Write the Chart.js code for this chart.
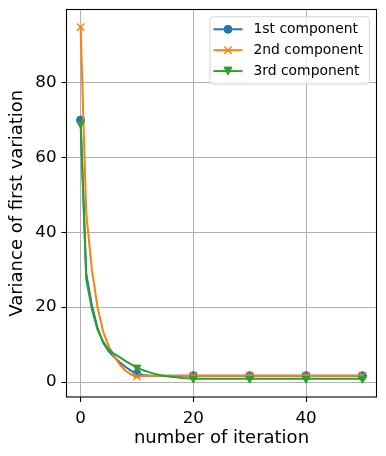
<!DOCTYPE html>
<html><head><meta charset="utf-8">
<script src="https://cdn.jsdelivr.net/npm/chart.js@4.4.1/dist/chart.umd.min.js"></script>
<style>html,body{margin:0;padding:0;background:#fff}#wrap{width:386px;height:456px;position:relative}</style>
</head><body><div id="wrap"><canvas id="c" width="386" height="456"></canvas></div>
<script>
const iterations = [0,1,2,3,4,5,6,7,8,9,10,11,12,13,14,15,16,17,18,19,20,21,22,23,24,25,26,27,28,29,30,31,32,33,34,35,36,37,38,39,40,41,42,43,44,45,46,47,48,49,50];
const seriesLabels = ['1st component', '2nd component', '3rd component'];
const comp1 = [70, 29, 20.5, 14.5, 10.5, 8.2, 6.6, 5.2, 4.0, 3.0, 2.2, 1.9, 1.75, 1.7, 1.7, 1.7, 1.7, 1.7, 1.7, 1.7, 1.7, 1.7, 1.7, 1.7, 1.7, 1.7, 1.7, 1.7, 1.7, 1.7, 1.7, 1.7, 1.7, 1.7, 1.7, 1.7, 1.7, 1.7, 1.7, 1.7, 1.7, 1.7, 1.7, 1.7, 1.7, 1.7, 1.7, 1.7, 1.7, 1.7, 1.7];
const comp2 = [94.8, 45, 30, 20, 13.5, 9.5, 6.8, 4.6, 3.0, 2.0, 1.5, 1.6, 1.7, 1.7, 1.7, 1.7, 1.7, 1.7, 1.7, 1.7, 1.7, 1.7, 1.7, 1.7, 1.7, 1.7, 1.7, 1.7, 1.7, 1.7, 1.7, 1.7, 1.7, 1.7, 1.7, 1.7, 1.7, 1.7, 1.7, 1.7, 1.7, 1.7, 1.7, 1.7, 1.7, 1.7, 1.7, 1.7, 1.7, 1.7, 1.7];
const comp3 = [69, 27.5, 19.5, 14, 10.8, 8.6, 7.5, 6.6, 5.6, 4.7, 3.9, 3.2, 2.7, 2.25, 1.9, 1.6, 1.4, 1.25, 1.1, 1.0, 0.95, 0.9, 0.9, 0.9, 0.9, 0.9, 0.9, 0.9, 0.9, 0.9, 0.9, 0.9, 0.9, 0.9, 0.9, 0.9, 0.9, 0.9, 0.9, 0.9, 0.9, 0.9, 0.9, 0.9, 0.9, 0.9, 0.9, 0.9, 0.9, 0.9, 0.9];
const xTicks = [0, 20, 40];
const yTicks = [0, 20, 40, 60, 80];
const xTitle = 'number of iteration';
const yTitle = 'Variance of first variation';

const FONT = 'DejaVu Sans';
const colors = ['#1f77b4', '#ff7f0e', '#2ca02c'];
const markers = [
  {style: 'circle', radius: 4, rot: 0, bw: 1},
  {style: 'crossRot', radius: 5.2, rot: 0, bw: 1.4},
  {style: 'triangle', radius: 4.6, rot: 180, bw: 1}
];
const seriesValues = [comp1, comp2, comp3];

const datasets = seriesValues.map((vals, i) => ({
  label: seriesLabels[i],
  data: iterations.map((x, j) => ({x: x, y: vals[j]})),
  borderColor: colors[i],
  backgroundColor: colors[i],
  borderWidth: 2,
  tension: 0,
  fill: false,
  order: 3 - i,
  pointStyle: markers[i].style,
  pointRotation: markers[i].rot,
  pointBorderWidth: markers[i].bw,
  pointBackgroundColor: colors[i],
  pointBorderColor: colors[i],
  pointRadius: ctx => (ctx.dataIndex % 10 === 0 ? markers[i].radius : 0),
  pointHoverRadius: 0
}));

const framePlugin = {
  id: 'frame',
  afterDraw(chart) {
    const ctx = chart.ctx, a = chart.chartArea;
    ctx.save();
    ctx.strokeStyle = '#000';
    ctx.lineWidth = 1.1;
    ctx.strokeRect(a.left, a.top, a.right - a.left, a.bottom - a.top);
    // legend
    ctx.font = '13.9px "' + FONT + '"';
    let tw = 0;
    chart.data.datasets.forEach(d => { tw = Math.max(tw, ctx.measureText(d.label).width); });
    const bw = 5.6 + 27.8 + 11.1 + tw + 5.6;
    const right = a.right - 7, top = a.top + 7.2;
    const left = right - bw, h = 67.5;
    ctx.beginPath();
    ctx.roundRect(left, top, bw, h, 3.5);
    ctx.fillStyle = 'rgba(255,255,255,0.8)';
    ctx.fill();
    ctx.strokeStyle = 'rgba(204,204,204,0.8)';
    ctx.lineWidth = 1;
    ctx.stroke();
    chart.data.datasets.forEach((d, i) => {
      const cy = top + 12.6 + i * 20.9;
      const hx0 = left + 3.5, hx1 = left + 32.5, mx = (hx0 + hx1) / 2;
      ctx.strokeStyle = colors[i];
      ctx.fillStyle = colors[i];
      ctx.lineWidth = 2;
      ctx.beginPath(); ctx.moveTo(hx0, cy); ctx.lineTo(hx1, cy); ctx.stroke();
      ctx.lineWidth = markers[i].bw;
      if (i === 0) {
        ctx.beginPath(); ctx.arc(mx, cy, 4, 0, Math.PI * 2); ctx.fill(); ctx.stroke();
      } else if (i === 1) {
        const s = 3.7;
        ctx.beginPath();
        ctx.moveTo(mx - s, cy - s); ctx.lineTo(mx + s, cy + s);
        ctx.moveTo(mx - s, cy + s); ctx.lineTo(mx + s, cy - s);
        ctx.stroke();
      } else {
        const s = 4;
        ctx.beginPath();
        ctx.moveTo(mx - s, cy - s); ctx.lineTo(mx + s, cy - s); ctx.lineTo(mx, cy + s);
        ctx.closePath(); ctx.fill(); ctx.stroke();
      }
      ctx.fillStyle = '#000';
      ctx.textAlign = 'left';
      ctx.textBaseline = 'middle';
      ctx.fillText(d.label, left + 43.5, cy + 0.5);
    });
    ctx.restore();
  }
};

function zeroPad(s) { s.paddingTop = 0; s.paddingBottom = 0; s.paddingLeft = 0; s.paddingRight = 0; }

new Chart(document.getElementById('c'), {
  type: 'line',
  data: {datasets: datasets},
  plugins: [framePlugin],
  options: {
    responsive: false,
    devicePixelRatio: 1,
    animation: false,
    events: [],
    layout: {padding: {left: 0, right: 9.5, top: 9.5, bottom: 0}},
    plugins: {legend: {display: false}, tooltip: {enabled: false}},
    scales: {
      x: {
        type: 'linear',
        min: -2.5, max: 52.5,
        afterBuildTicks: s => { s.ticks = xTicks.map(v => ({value: v})); },
        afterFit: s => { s.height = 59; zeroPad(s); },
        grid: {color: '#b0b0b0', lineWidth: 1, tickColor: '#000', tickLength: 5, tickWidth: 1.1, drawTicks: true},
        border: {display: false},
        ticks: {color: '#000', font: {family: FONT, size: 16.7}, padding: 7, maxRotation: 0, autoSkip: false},
        title: {display: true, text: xTitle, color: '#000', font: {family: FONT, size: 18}, padding: {top: 0, bottom: 7}}
      },
      y: {
        type: 'linear',
        min: -4.0, max: 99.5,
        afterBuildTicks: s => { s.ticks = yTicks.map(v => ({value: v})); },
        afterFit: s => { s.width = 66.5; zeroPad(s); },
        grid: {color: '#b0b0b0', lineWidth: 1, tickColor: '#000', tickLength: 5, tickWidth: 1.1, drawTicks: true},
        border: {display: false},
        ticks: {color: '#000', font: {family: FONT, size: 16.7}, padding: 5, autoSkip: false},
        title: {display: true, text: yTitle, color: '#000', font: {family: FONT, size: 18}, padding: {top: 7, bottom: 0}}
      }
    }
  }
});
</script></body></html>
